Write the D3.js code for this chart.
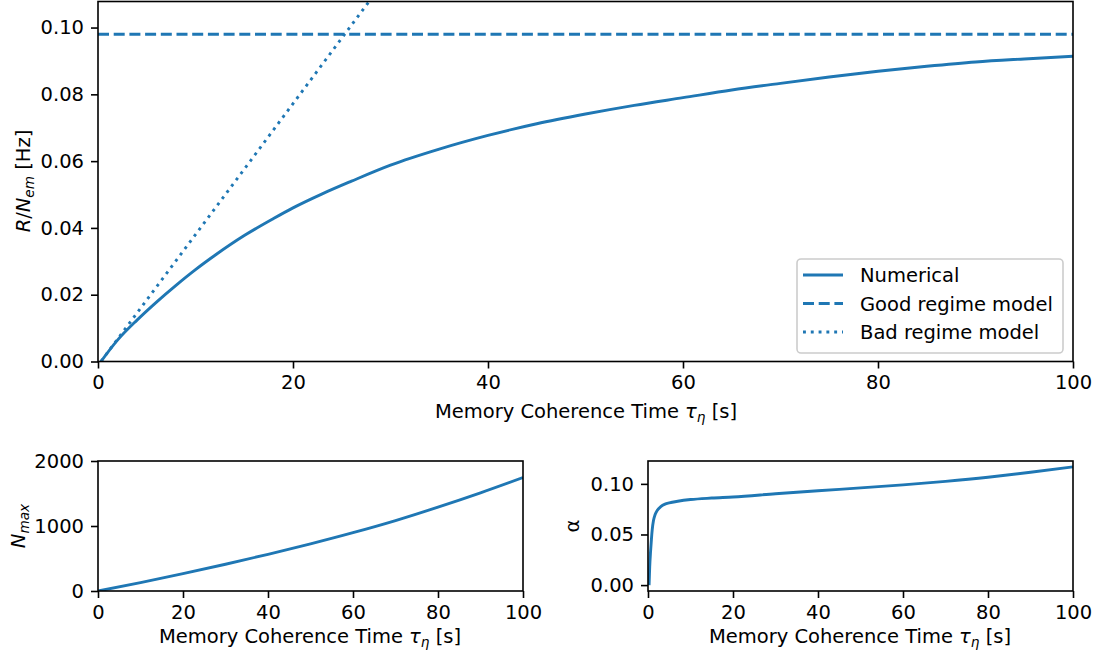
<!DOCTYPE html>
<html>
<head>
<meta charset="utf-8">
<script src="https://cdn.jsdelivr.net/npm/d3@7"></script>
<style>
  html, body { margin: 0; padding: 0; background: #fff; }
  svg { display: block; font-family: "DejaVu Sans", sans-serif; }
  .tick text { font-size: 19.5px; fill: #000; font-family: "DejaVu Sans", sans-serif; }
  .tick line { stroke: #000; stroke-width: 1.6px; }
  .domain { display: none; }
</style>
</head>
<body>
<svg id="chart" width="1105" height="659"></svg>
<script>
// Rate per emitter vs memory coherence time
const tauRate = [0.3, 2, 4, 6, 8, 10, 12, 15, 18, 20, 23, 26, 30, 35, 40, 45, 50, 55, 60, 65, 70, 75, 80, 85, 90, 95, 100];
const rateNumerical = [0, 0.0064, 0.0124, 0.0178, 0.0228, 0.0275, 0.0318, 0.0377, 0.0428, 0.0460, 0.0502, 0.0540, 0.0588, 0.0636, 0.0677, 0.0712, 0.0741, 0.0767, 0.0790, 0.0813, 0.0833, 0.0852, 0.0869, 0.0884, 0.0897, 0.0906, 0.0914];
const goodRegimeRate = 0.098;
const tauBad = [0.3, 30];
const rateBad = [0, 0.1164];

// Maximum number of emitters
const tauNmax = [0, 10, 20, 30, 40, 50, 60, 70, 80, 90, 100];
const nMax = [0, 128, 267, 412, 564, 725, 897, 1083, 1290, 1510, 1745];

// Alpha parameter
const tauAlpha = [0.25, 0.4, 0.6, 0.8, 1.0, 1.3, 1.7, 2.2, 3, 4, 5, 7, 10, 15, 20, 30, 40, 50, 60, 70, 80, 90, 100];
const alphaVals = [0, 0.018, 0.033, 0.045, 0.055, 0.064, 0.070, 0.074, 0.0775, 0.0800, 0.0812, 0.0828, 0.0845, 0.0860, 0.0871, 0.0902, 0.0932, 0.0960, 0.0990, 0.1025, 0.1066, 0.1115, 0.1168];

const xTicks = [0, 20, 40, 60, 80, 100];
const rateTicks = [0, 0.02, 0.04, 0.06, 0.08, 0.10];
const nMaxTicks = [0, 1000, 2000];
const alphaTicks = [0, 0.05, 0.10];

const legendLabels = ["Numerical", "Good regime model", "Bad regime model"];

const BLUE = "#1f77b4";
const FS = 19.5;
const svg = d3.select("#chart");

function makePanel(id, box, xDomain, yDomain, yTicks, yFmt) {
  const x = d3.scaleLinear().domain(xDomain).range([box.left, box.right]);
  const y = d3.scaleLinear().domain(yDomain).range([box.bottom, box.top]);
  const g = svg.append("g").attr("id", id);
  g.append("clipPath").attr("id", id + "-clip")
    .append("rect")
    .attr("x", box.left).attr("y", box.top)
    .attr("width", box.right - box.left).attr("height", box.bottom - box.top);
  g.append("g").attr("transform", `translate(0,${box.bottom})`)
    .call(d3.axisBottom(x).tickValues(xTicks).tickSize(7).tickPadding(7).tickFormat(d3.format("d")));
  g.append("g").attr("transform", `translate(${box.left},0)`)
    .call(d3.axisLeft(y).tickValues(yTicks).tickSize(7).tickPadding(7).tickFormat(yFmt));
  const plot = g.append("g").attr("clip-path", `url(#${id}-clip)`);
  return { x, y, g, plot, box };
}

function frame(p) {
  p.g.append("rect")
    .attr("x", p.box.left).attr("y", p.box.top)
    .attr("width", p.box.right - p.box.left).attr("height", p.box.bottom - p.box.top)
    .attr("fill", "none").attr("stroke", "#000").attr("stroke-width", 1.6);
}

function drawLine(p, xs, ys, dash) {
  const line = d3.line()
    .x((d, i) => p.x(xs[i]))
    .y(d => p.y(d))
    .curve(d3.curveMonotoneX);
  const path = p.plot.append("path").datum(ys)
    .attr("d", line)
    .attr("fill", "none")
    .attr("stroke", BLUE)
    .attr("stroke-width", 2.9);
  if (dash) path.attr("stroke-dasharray", dash);
  return path;
}

// x-axis label with tau_eta
function xLabel(g, cx, cy) {
  const t = g.append("text")
    .attr("x", cx).attr("y", cy)
    .attr("text-anchor", "middle")
    .attr("font-size", FS).attr("fill", "#000");
  t.append("tspan").text("Memory Coherence Time ");
  t.append("tspan").attr("font-style", "italic").text("τ");
  t.append("tspan").attr("font-style", "italic").attr("font-size", FS * 0.7).attr("dy", 4).text("η");
  t.append("tspan").attr("dy", -4).text(" [s]");
}

// ---- Main panel ----
const main = makePanel("main", { left: 98, right: 1073, top: 1.5, bottom: 361.5 },
  [0, 100], [0, 0.1078], rateTicks, d3.format(".2f"));

drawLine(main, tauRate, rateNumerical);
drawLine(main, [0, 100], [goodRegimeRate, goodRegimeRate], "11,4.7");
drawLine(main, tauBad, rateBad, "2.9,4.9");
frame(main);

xLabel(main.g, 586, 418);

{
  const t = main.g.append("text")
    .attr("transform", "translate(30,181) rotate(-90)")
    .attr("text-anchor", "middle")
    .attr("font-size", FS).attr("fill", "#000");
  t.append("tspan").attr("font-style", "italic").text("R");
  t.append("tspan").text("/");
  t.append("tspan").attr("font-style", "italic").text("N");
  t.append("tspan").attr("font-style", "italic").attr("font-size", FS * 0.7).attr("dy", 4).text("em");
  t.append("tspan").attr("dy", -4).text(" [Hz]");
}

// Legend
{
  const lg = main.g.append("g");
  lg.append("rect")
    .attr("x", 797).attr("y", 259).attr("width", 266).attr("height", 94)
    .attr("rx", 4).attr("ry", 4)
    .attr("fill", "#fff").attr("fill-opacity", 0.8)
    .attr("stroke", "#cccccc").attr("stroke-width", 1.6);
  const dashes = [null, "11,4.7", "2.9,4.9"];
  legendLabels.forEach((lab, i) => {
    const yy = 275 + i * 28.5;
    const l = lg.append("line")
      .attr("x1", 803).attr("x2", 843).attr("y1", yy).attr("y2", yy)
      .attr("stroke", BLUE).attr("stroke-width", 2.9);
    if (dashes[i]) l.attr("stroke-dasharray", dashes[i]);
    lg.append("text").attr("x", 860).attr("y", yy + 7)
      .attr("font-size", FS).attr("fill", "#000").text(lab);
  });
}

// ---- Bottom-left panel: N_max ----
const left = makePanel("nmax", { left: 98, right: 523, top: 461, bottom: 591 },
  [0, 100], [0, 2000], nMaxTicks, d3.format("d"));
drawLine(left, tauNmax, nMax);
frame(left);
xLabel(left.g, 310, 643);
{
  const t = left.g.append("text")
    .attr("transform", "translate(25,526) rotate(-90)")
    .attr("text-anchor", "middle")
    .attr("font-size", FS).attr("fill", "#000");
  t.append("tspan").attr("font-style", "italic").text("N");
  t.append("tspan").attr("font-style", "italic").attr("font-size", FS * 0.7).attr("dy", 4).text("max");
}

// ---- Bottom-right panel: alpha ----
const right = makePanel("alpha", { left: 648, right: 1073, top: 461, bottom: 591 },
  [0, 100], [-0.00584, 0.1226], alphaTicks, d3.format(".2f"));
drawLine(right, tauAlpha, alphaVals);
frame(right);
xLabel(right.g, 860, 643);
right.g.append("text")
  .attr("transform", "translate(579,526) rotate(-90)")
  .attr("text-anchor", "middle")
  .attr("font-size", FS).attr("fill", "#000").text("α");
</script>
</body>
</html>
